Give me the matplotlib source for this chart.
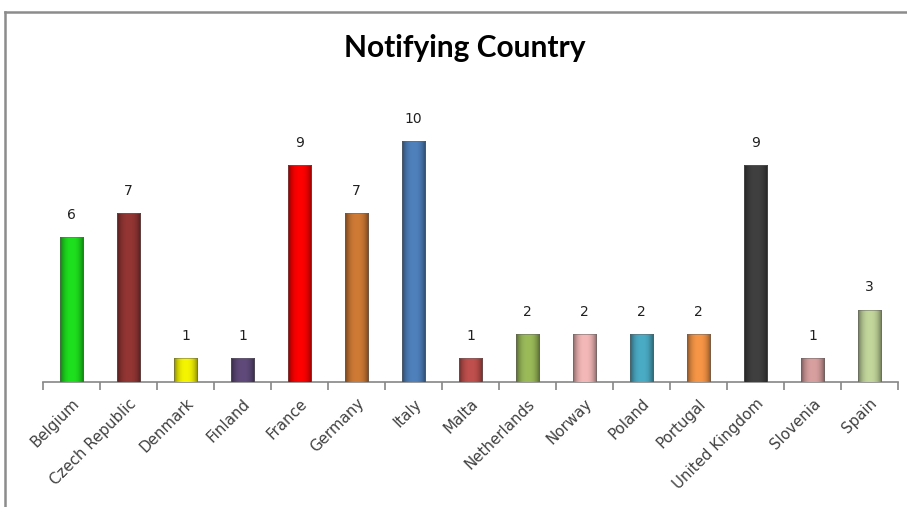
import numpy as np
import matplotlib
matplotlib.use("Agg")
import matplotlib.pyplot as plt
from matplotlib.colors import to_rgb
from matplotlib.lines import Line2D

countries = ["Belgium", "Czech Republic", "Denmark", "Finland", "France", "Germany",
             "Italy", "Malta", "Netherlands", "Norway", "Poland", "Portugal",
             "United Kingdom", "Slovenia", "Spain"]
values = [6, 7, 1, 1, 9, 7, 10, 1, 2, 2, 2, 2, 9, 1, 3]
colors = ["#1EE01E", "#943634", "#F5F500", "#604A7B", "#FF0000", "#CF7A35",
          "#4F81BD", "#C0504D", "#9BBB59", "#F4B8B8", "#4BACC6", "#F79646",
          "#404040", "#D9A0A0", "#C3D69B"]
title = "Notifying Country"

fig = plt.figure(figsize=(9.07, 5.07), dpi=100)
ax = fig.add_axes([43/907, 1-382/507, (898-43)/907, (382-100)/507])

x = np.arange(len(countries))
bars = ax.bar(x, values, width=0.42, color=colors, edgecolor="none", zorder=2)
ax.set_xlim(-0.5, len(countries)-0.5)
ax.set_ylim(0, 11.7)

# bevel-like horizontal gradient on each bar
prof = np.linspace(-1, 1, 64)
shade = 0.55 + 0.45*(1 - np.abs(prof)**2.5)
for b, c in zip(bars, colors):
    rgb = np.array(to_rgb(c))
    img = np.clip(rgb[None, None, :]*shade[None, :, None], 0, 1)
    x0, w, h = b.get_x(), b.get_width(), b.get_height()
    im = ax.imshow(img, extent=(x0, x0+w, 0, h), aspect="auto", zorder=3,
                   interpolation="bilinear")
    im.set_clip_path(b)
    b.set_edgecolor((0.4, 0.4, 0.4, 0.6))
    b.set_linewidth(0.6)
    b.set_zorder(4)
    b.set_facecolor("none")
    ax.annotate(str(int(h)), (x0+w/2, h), xytext=(0, 11), textcoords="offset points",
                ha="center", va="bottom", fontsize=10, color="#202020",
                family="DejaVu Sans")

for s in ["top", "right", "left"]:
    ax.spines[s].set_visible(False)
ax.spines["bottom"].set_color("#868686")
ax.spines["bottom"].set_linewidth(1.2)
ax.set_yticks([])
ax.set_xticks(x)
ax.set_xticklabels(countries, rotation=45, ha="right", rotation_mode="anchor",
                   fontsize=10.8, color="#404040")
ax.tick_params(axis="x", which="major", length=0, pad=10)
ax.set_xticks(np.arange(-0.5, len(countries)), minor=True)
ax.tick_params(axis="x", which="minor", length=6, color="#868686", width=1.2)

fig.text(465/907, 1-48/507, title, ha="center", va="center", fontsize=21.5,
         fontweight="bold", family="Lato", color="#000000")

# chart frame (cropped at right and bottom)
fig.add_artist(Line2D([5/907, 1.0], [1-12/507, 1-12/507], color="#8C8C8C", lw=1.8,
                      transform=fig.transFigure))
fig.add_artist(Line2D([5/907, 5/907], [1-12/507, 0.0], color="#8C8C8C", lw=1.8,
                      transform=fig.transFigure))

fig.savefig("out.png", dpi=100)
